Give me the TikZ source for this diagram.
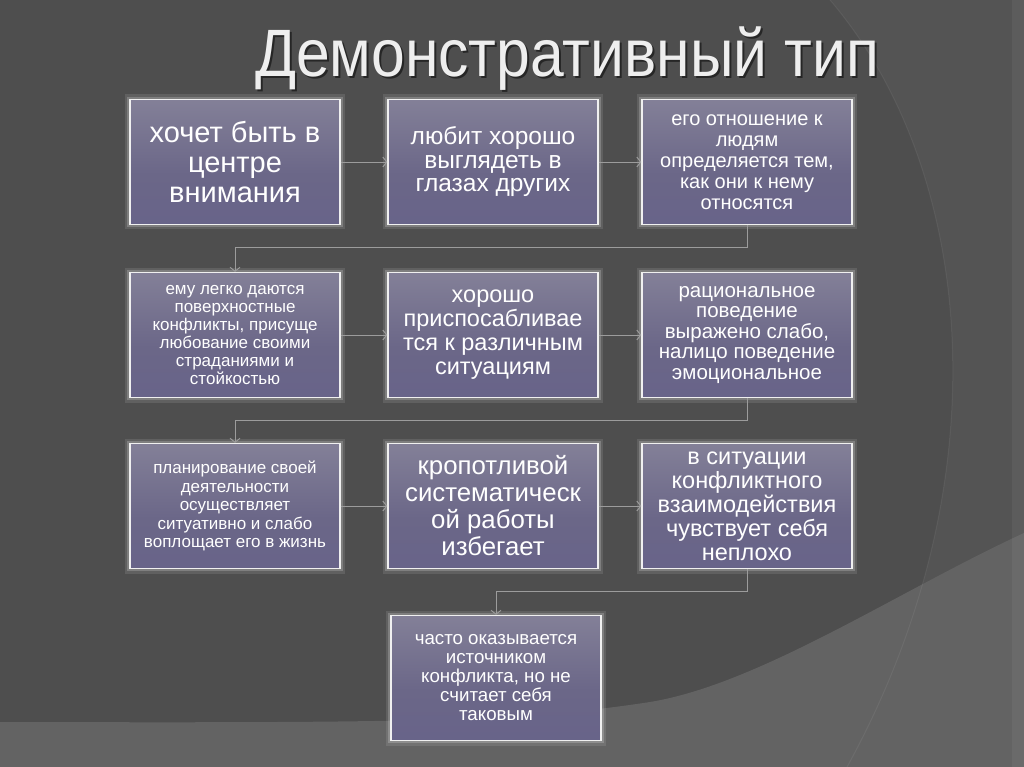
\documentclass[tikz,border=0pt]{standalone}
\usepackage{fontspec}
\setmainfont{Liberation Sans}
\usetikzlibrary{arrows.meta}
\definecolor{bgdark}{HTML}{4E4E4E}
\definecolor{bgmid}{HTML}{545454}
\definecolor{bglight}{HTML}{636363}
\definecolor{conncol}{HTML}{9C9C9C}
\definecolor{titlecol}{HTML}{EEEEEE}
\definecolor{sA}{HTML}{8A85B4}
\definecolor{sB}{HTML}{65608A}
\definecolor{sC}{HTML}{6B6788}
\definecolor{sD}{HTML}{8B889D}
\definecolor{sE}{HTML}{B3B1BF}
\pgfdeclareverticalshading{boxshade}{100bp}{color(0bp)=(sA); color(6bp)=(sB); color(45bp)=(sC); color(85bp)=(sD); color(100bp)=(sE)}
\tikzset{
  stepbox/.style={rectangle, minimum width=210pt, minimum height=125pt, inner sep=0pt,
    align=center, text=white, shading=boxshade,
    draw=white!88!gray, line width=1.3pt,
    preaction={draw=white, draw opacity=0.10, line width=10pt},
    preaction={draw=white, draw opacity=0.20, line width=5.5pt}},
  conn/.style={draw=conncol, line width=0.9pt, -{Straight Barb[length=4pt,width=10pt]}},
}
\newcommand{\fs}[2]{\fontsize{#1}{#2}\selectfont}
\begin{document}
\begin{tikzpicture}[x=1pt,y=-1pt]
\useasboundingbox (0,0) rectangle (1024,767);
% background
\fill[bgdark] (0,0) rectangle (1024,767);
\fill[bgmid] (830,0) .. controls (975,170) and (1005,480) .. (847,767) -- (1024,767) -- (1024,0) -- cycle;
\fill[bglight] (0,722) .. controls (400,723) and (520,722) .. (650,702) .. controls (760,684) and (900,590) .. (1024,533) -- (1024,767) -- (0,767) -- cycle;
\draw[white, opacity=0.06, line width=1pt] (830,0) .. controls (975,170) and (1005,480) .. (847,767);
\fill[white, opacity=0.05] (1012,0) rectangle (1024,767);
% title
\node[anchor=base, text=black, opacity=0.5] at (569,79) {\scalebox{0.905}[1]{\fs{67}{70}Демонстративный тип}};
\node[anchor=base, text=titlecol] (title) at (567,77) {\scalebox{0.905}[1]{\fs{67}{70}Демонстративный тип}};
% boxes
\node[stepbox, font=\fs{29}{30}] (b1) at (235,162) {хочет быть в\\центре\\внимания};
\node[stepbox, font=\fs{24.5}{23.5}] (b2) at (493,162) {любит хорошо\\выглядеть в\\глазах других};
\node[stepbox, font=\fs{20}{21}] (b3) at (747,162) {его отношение к\\людям\\определяется тем,\\как они к нему\\относятся};
\node[stepbox, font=\fs{17}{18}] (b4) at (235,335) {ему легко даются\\поверхностные\\конфликты, присуще\\любование своими\\страданиями и\\стойкостью};
\node[stepbox, font=\fs{23.5}{24}] (b5) at (493,335) {хорошо\\приспосабливае\\тся к различным\\ситуациям};
\node[stepbox, font=\fs{20.5}{20.5}] (b6) at (747,335) {рациональное\\поведение\\выражено слабо,\\налицо поведение\\эмоциональное};
\node[stepbox, font=\fs{17}{18.5}] (b7) at (235,506) {планирование своей\\деятельности\\осуществляет\\ситуативно и слабо\\воплощает его в жизнь};
\node[stepbox, font=\fs{25.8}{27}] (b8) at (493,506) {кропотливой\\систематическ\\ой работы\\избегает};
\node[stepbox, font=\fs{23.5}{24}] (b9) at (747,506) {в ситуации\\конфликтного\\взаимодействия\\чувствует себя\\неплохо};
\node[stepbox, font=\fs{18.7}{19}] (b10) at (496,678) {часто оказывается\\источником\\конфликта, но не\\считает себя\\таковым};
% connectors
\draw[conn] (b1.east) -- (b2.west);
\draw[conn] (b2.east) -- (b3.west);
\draw[conn] (b3.south) -- ++(0,22) -| (b4.north);
\draw[conn] (b4.east) -- (b5.west);
\draw[conn] (b5.east) -- (b6.west);
\draw[conn] (b6.south) -- ++(0,22) -| (b7.north);
\draw[conn] (b7.east) -- (b8.west);
\draw[conn] (b8.east) -- (b9.west);
\draw[conn] (b9.south) -- ++(0,22) -| (b10.north);
\end{tikzpicture}
\end{document}
